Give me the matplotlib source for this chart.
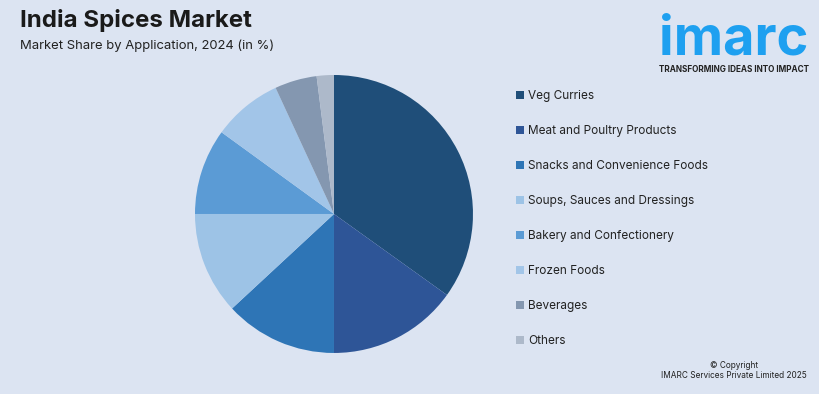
import matplotlib.pyplot as plt
from matplotlib.patches import Patch

plt.rcParams['font.family'] = ['Inter', 'DejaVu Sans']

applications = ["Veg Curries", "Meat and Poultry Products", "Snacks and Convenience Foods",
                "Soups, Sauces and Dressings", "Bakery and Confectionery", "Frozen Foods",
                "Beverages", "Others"]
shares = [34.9, 15.1, 13.1, 11.9, 10.0, 8.1, 4.9, 2.0]
colors = ["#1f4e79", "#2e5597", "#2e75b6", "#9dc3e6", "#5b9bd5", "#a2c5e8", "#8497b0", "#adb9ca"]

bg = "#dce4f2"
fig = plt.figure(figsize=(8.2, 3.94), dpi=100, facecolor=bg)

# pie centred at about (334, 214) px, radius ~139 px
ax = fig.add_axes([0.4073 - 0.1695, 0.4569 - 0.3528, 0.339, 0.7056])
ax.set_facecolor(bg)
wedges, _ = ax.pie(shares, colors=colors, startangle=90, counterclock=False, radius=1)
ax.set_xlim(-1, 1)
ax.set_ylim(-1, 1)
ax.set_aspect('equal')
ax.axis('off')

handles = [Patch(facecolor=c, edgecolor='none') for c in colors]
fig.legend(handles, applications, loc='upper left', bbox_to_anchor=(0.6295, 1 - 90 / 394),
           frameon=False, fontsize=8.5, labelspacing=1.95, handlelength=0.65, handleheight=0.65,
           handletextpad=0.35, borderpad=0, borderaxespad=0, labelcolor='#222222')

fig.text(20 / 820, 1 - 21 / 394, "India Spices Market", fontsize=17.3, fontweight='bold',
         color='#1a1a1a', va='center')
fig.text(20 / 820, 1 - 46 / 394, "Market Share by Application, 2024 (in %)", fontsize=9.4,
         color='#222222', va='center')

# logo
fig.text(734 / 820, 1 - 40 / 394, "imarc", fontsize=39, fontweight='bold', color='#1ea0f0',
         ha='center', va='center')
fig.text(734 / 820, 1 - 70 / 394, "TRANSFORMING IDEAS INTO IMPACT", fontsize=5.9,
         fontweight='bold', color='#222222', ha='center', va='center')

fig.text(734 / 820, 1 - 365 / 394, "© Copyright", fontsize=5.95, color='#222222',
         ha='center', va='center')
fig.text(734 / 820, 1 - 376 / 394, "IMARC Services Private Limited 2025", fontsize=5.95,
         color='#222222', ha='center', va='center')

fig.savefig("out.png", dpi=100, facecolor=bg)
